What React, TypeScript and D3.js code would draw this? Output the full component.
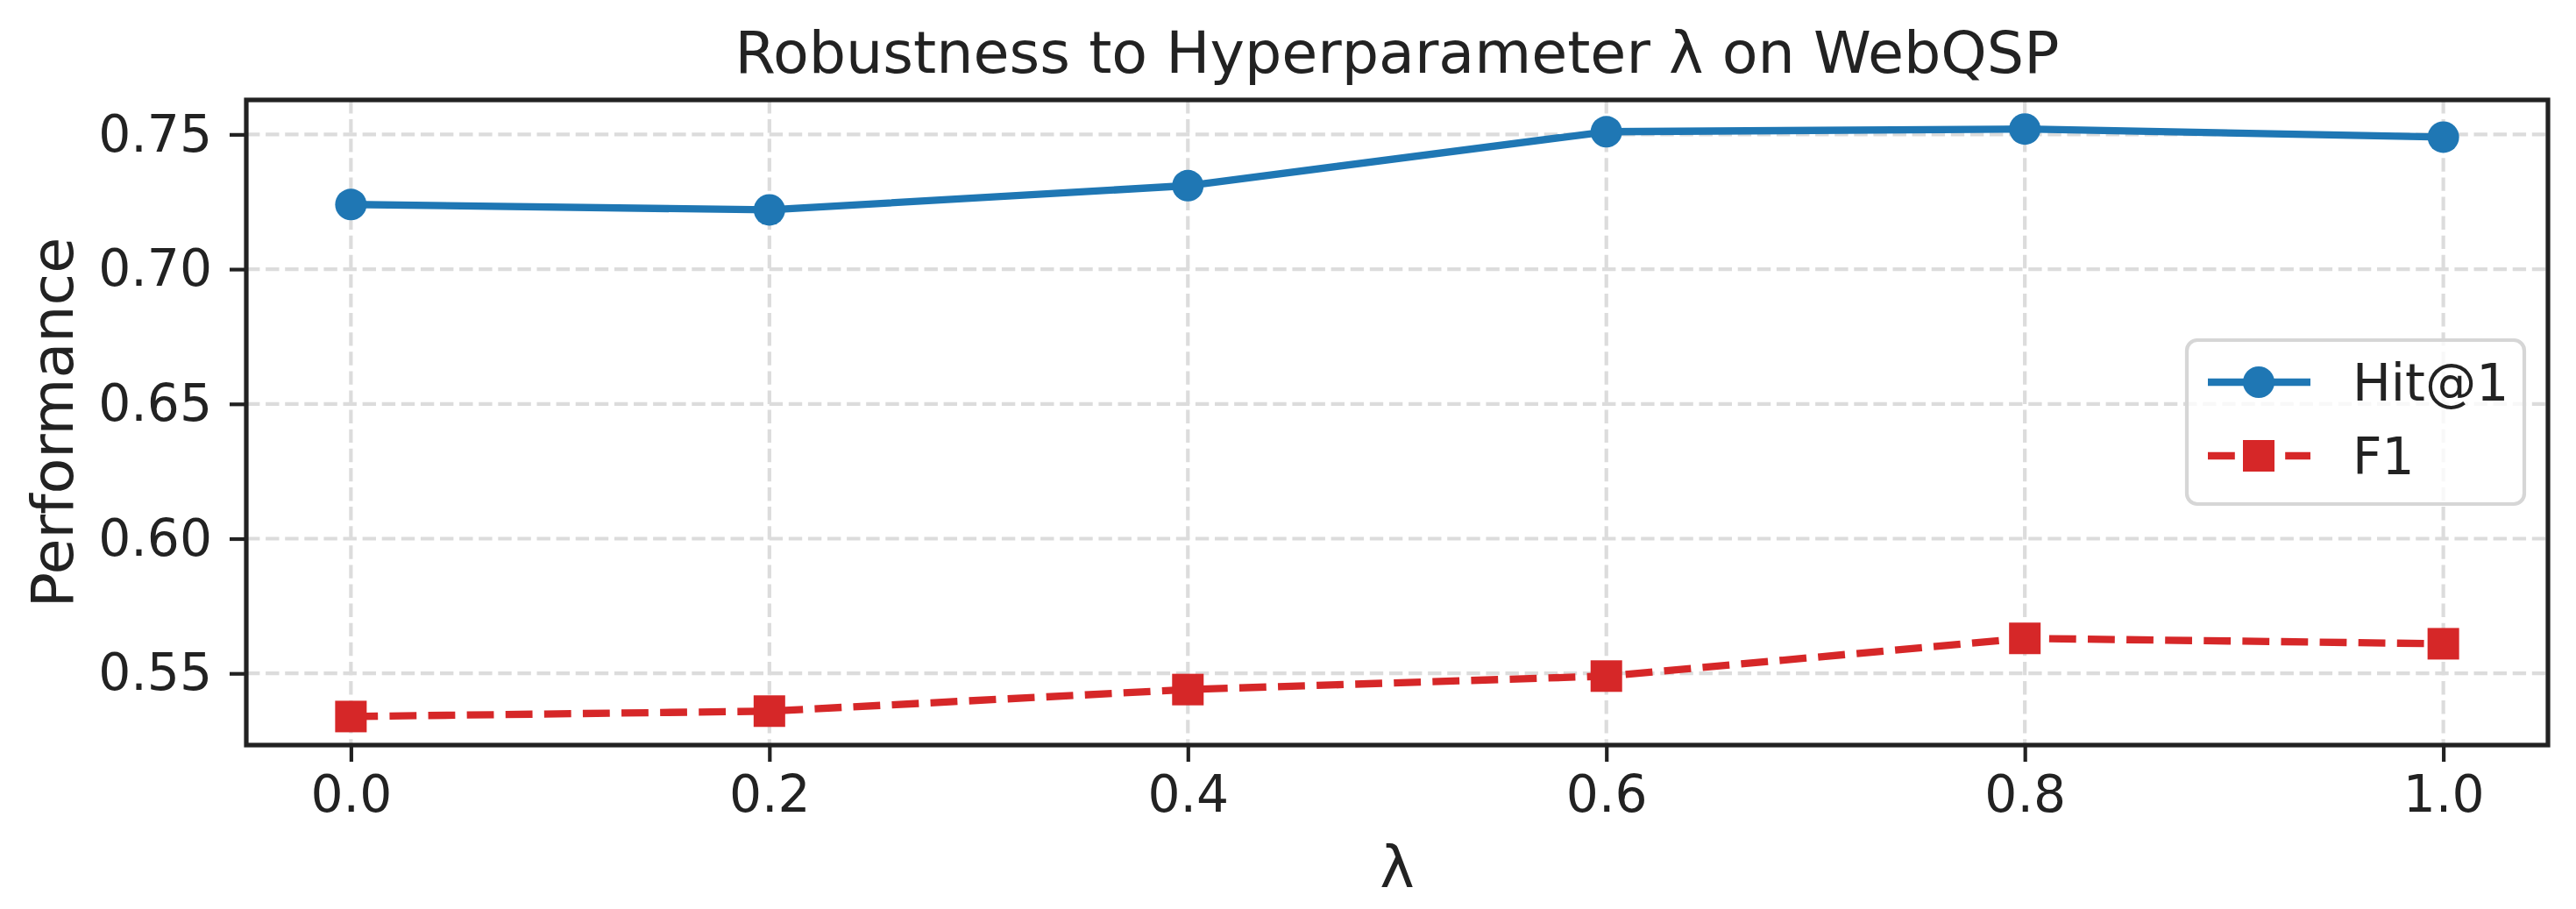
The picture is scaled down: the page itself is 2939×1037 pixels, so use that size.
import { useEffect, useRef } from "react";
import * as d3 from "d3";

const lambdas = [0.0, 0.2, 0.4, 0.6, 0.8, 1.0];
const hitAt1 = [0.724, 0.722, 0.731, 0.751, 0.752, 0.749];
const f1 = [0.534, 0.536, 0.544, 0.549, 0.563, 0.561];
const xTicks = [0.0, 0.2, 0.4, 0.6, 0.8, 1.0];
const yTicks = [0.55, 0.6, 0.65, 0.7, 0.75];
const seriesNames = ["Hit@1", "F1"];

const W = 2939;
const H = 1037;
const FONT = "'DejaVu Sans', sans-serif";
const INK = "#222222";
const BLUE = "#1f77b4";
const RED = "#d62728";

export default function App() {
    const svgRef = useRef<SVGSVGElement | null>(null);

    useEffect(() => {
        const svg = d3.select(svgRef.current!);
        svg.selectAll("*").remove();

        const m = { left: 281, right: W - 2907, top: 114, bottom: H - 850 };

        const x = d3.scaleLinear().domain([-0.05, 1.05]).range([m.left, W - m.right]);
        const y = d3.scaleLinear().domain([0.5234, 0.7628]).range([H - m.bottom, m.top]);

        svg.append("rect").attr("width", W).attr("height", H).attr("fill", "#fff");

        // grid
        const grid = svg.append("g")
            .attr("stroke", "#dcdcdc")
            .attr("stroke-width", 4.2)
            .attr("stroke-dasharray", "15.4,6.7");
        grid.selectAll("line.gx")
            .data(xTicks)
            .join("line")
            .attr("x1", (d) => x(d)).attr("x2", (d) => x(d))
            .attr("y1", m.top).attr("y2", H - m.bottom);
        grid.selectAll("line.gy")
            .data(yTicks)
            .join("line")
            .attr("class", "gy")
            .attr("y1", (d) => y(d)).attr("y2", (d) => y(d))
            .attr("x1", m.left).attr("x2", W - m.right);

        // axes with ticks
        const xAxis = svg.append("g")
            .attr("transform", `translate(0,${H - m.bottom})`)
            .call(d3.axisBottom(x).tickValues(xTicks).tickFormat(d3.format(".1f")).tickSize(19).tickPadding(16).tickSizeOuter(0));
        const yAxis = svg.append("g")
            .attr("transform", `translate(${m.left},0)`)
            .call(d3.axisLeft(y).tickValues(yTicks).tickFormat(d3.format(".2f")).tickSize(19).tickPadding(20).tickSizeOuter(0));
        [xAxis, yAxis].forEach((ax) => {
            ax.select(".domain").remove();
            ax.selectAll(".tick line").attr("stroke", INK).attr("stroke-width", 4.2);
            ax.selectAll(".tick text")
                .attr("fill", INK)
                .attr("font-family", FONT)
                .attr("font-size", 58.3);
        });
        xAxis.selectAll(".tick text").attr("dy", "0.71em");

        // series
        const line = d3.line<number>()
            .x((_d, i) => x(lambdas[i]))
            .y((d) => y(d));

        svg.append("path")
            .datum(hitAt1)
            .attr("fill", "none")
            .attr("stroke", BLUE)
            .attr("stroke-width", 8.33)
            .attr("stroke-linejoin", "round")
            .attr("d", line);
        svg.append("g").selectAll("circle")
            .data(hitAt1)
            .join("circle")
            .attr("cx", (_d, i) => x(lambdas[i]))
            .attr("cy", (d) => y(d))
            .attr("r", 18)
            .attr("fill", BLUE);

        svg.append("path")
            .datum(f1)
            .attr("fill", "none")
            .attr("stroke", RED)
            .attr("stroke-width", 8.33)
            .attr("stroke-dasharray", "30.8,13.3")
            .attr("d", line);
        svg.append("g").selectAll("rect")
            .data(f1)
            .join("rect")
            .attr("x", (_d, i) => x(lambdas[i]) - 18)
            .attr("y", (d) => y(d) - 18)
            .attr("width", 36)
            .attr("height", 36)
            .attr("fill", RED);

        // frame
        svg.append("rect")
            .attr("x", m.left).attr("y", m.top)
            .attr("width", W - m.right - m.left)
            .attr("height", H - m.bottom - m.top)
            .attr("fill", "none")
            .attr("stroke", INK)
            .attr("stroke-width", 5.2);

        // legend
        const lg = svg.append("g");
        lg.append("rect")
            .attr("x", 2495).attr("y", 388)
            .attr("width", 385).attr("height", 187)
            .attr("rx", 12)
            .attr("fill", "rgba(255,255,255,0.8)")
            .attr("stroke", "#d6d6d6")
            .attr("stroke-width", 4.2);
        const rows = [
            { name: seriesNames[0], color: BLUE, dash: null as string | null, shape: "circle", cy: 436 },
            { name: seriesNames[1], color: RED, dash: "30.8,13.3", shape: "square", cy: 520 },
        ];
        rows.forEach((r) => {
            lg.append("line")
                .attr("x1", 2519).attr("x2", 2636)
                .attr("y1", r.cy).attr("y2", r.cy)
                .attr("stroke", r.color)
                .attr("stroke-width", 8.33)
                .attr("stroke-dasharray", r.dash);
            if (r.shape === "circle") {
                lg.append("circle").attr("cx", 2577).attr("cy", r.cy).attr("r", 18).attr("fill", r.color);
            } else {
                lg.append("rect").attr("x", 2559).attr("y", r.cy - 18).attr("width", 36).attr("height", 36).attr("fill", r.color);
            }
            lg.append("text")
                .attr("x", 2684).attr("y", r.cy + 21)
                .attr("font-family", FONT)
                .attr("font-size", 58.3)
                .attr("fill", INK)
                .text(r.name);
        });

        // labels
        svg.append("text")
            .attr("x", (m.left + W - m.right) / 2).attr("y", 83)
            .attr("text-anchor", "middle")
            .attr("font-family", FONT)
            .attr("font-size", 66.7)
            .attr("fill", INK)
            .text("Robustness to Hyperparameter λ on WebQSP");
        svg.append("text")
            .attr("x", (m.left + W - m.right) / 2).attr("y", 1012)
            .attr("text-anchor", "middle")
            .attr("font-family", FONT)
            .attr("font-size", 66.7)
            .attr("fill", INK)
            .text("λ");
        svg.append("text")
            .attr("transform", `translate(83,${(m.top + H - m.bottom) / 2}) rotate(-90)`)
            .attr("text-anchor", "middle")
            .attr("font-family", FONT)
            .attr("font-size", 66.7)
            .attr("fill", INK)
            .text("Performance");
    }, []);

    return (
        <svg
            ref={svgRef}
            width={W}
            height={H}
            style={{ position: "absolute", left: 0, top: 0 }}
        />
    );
}
